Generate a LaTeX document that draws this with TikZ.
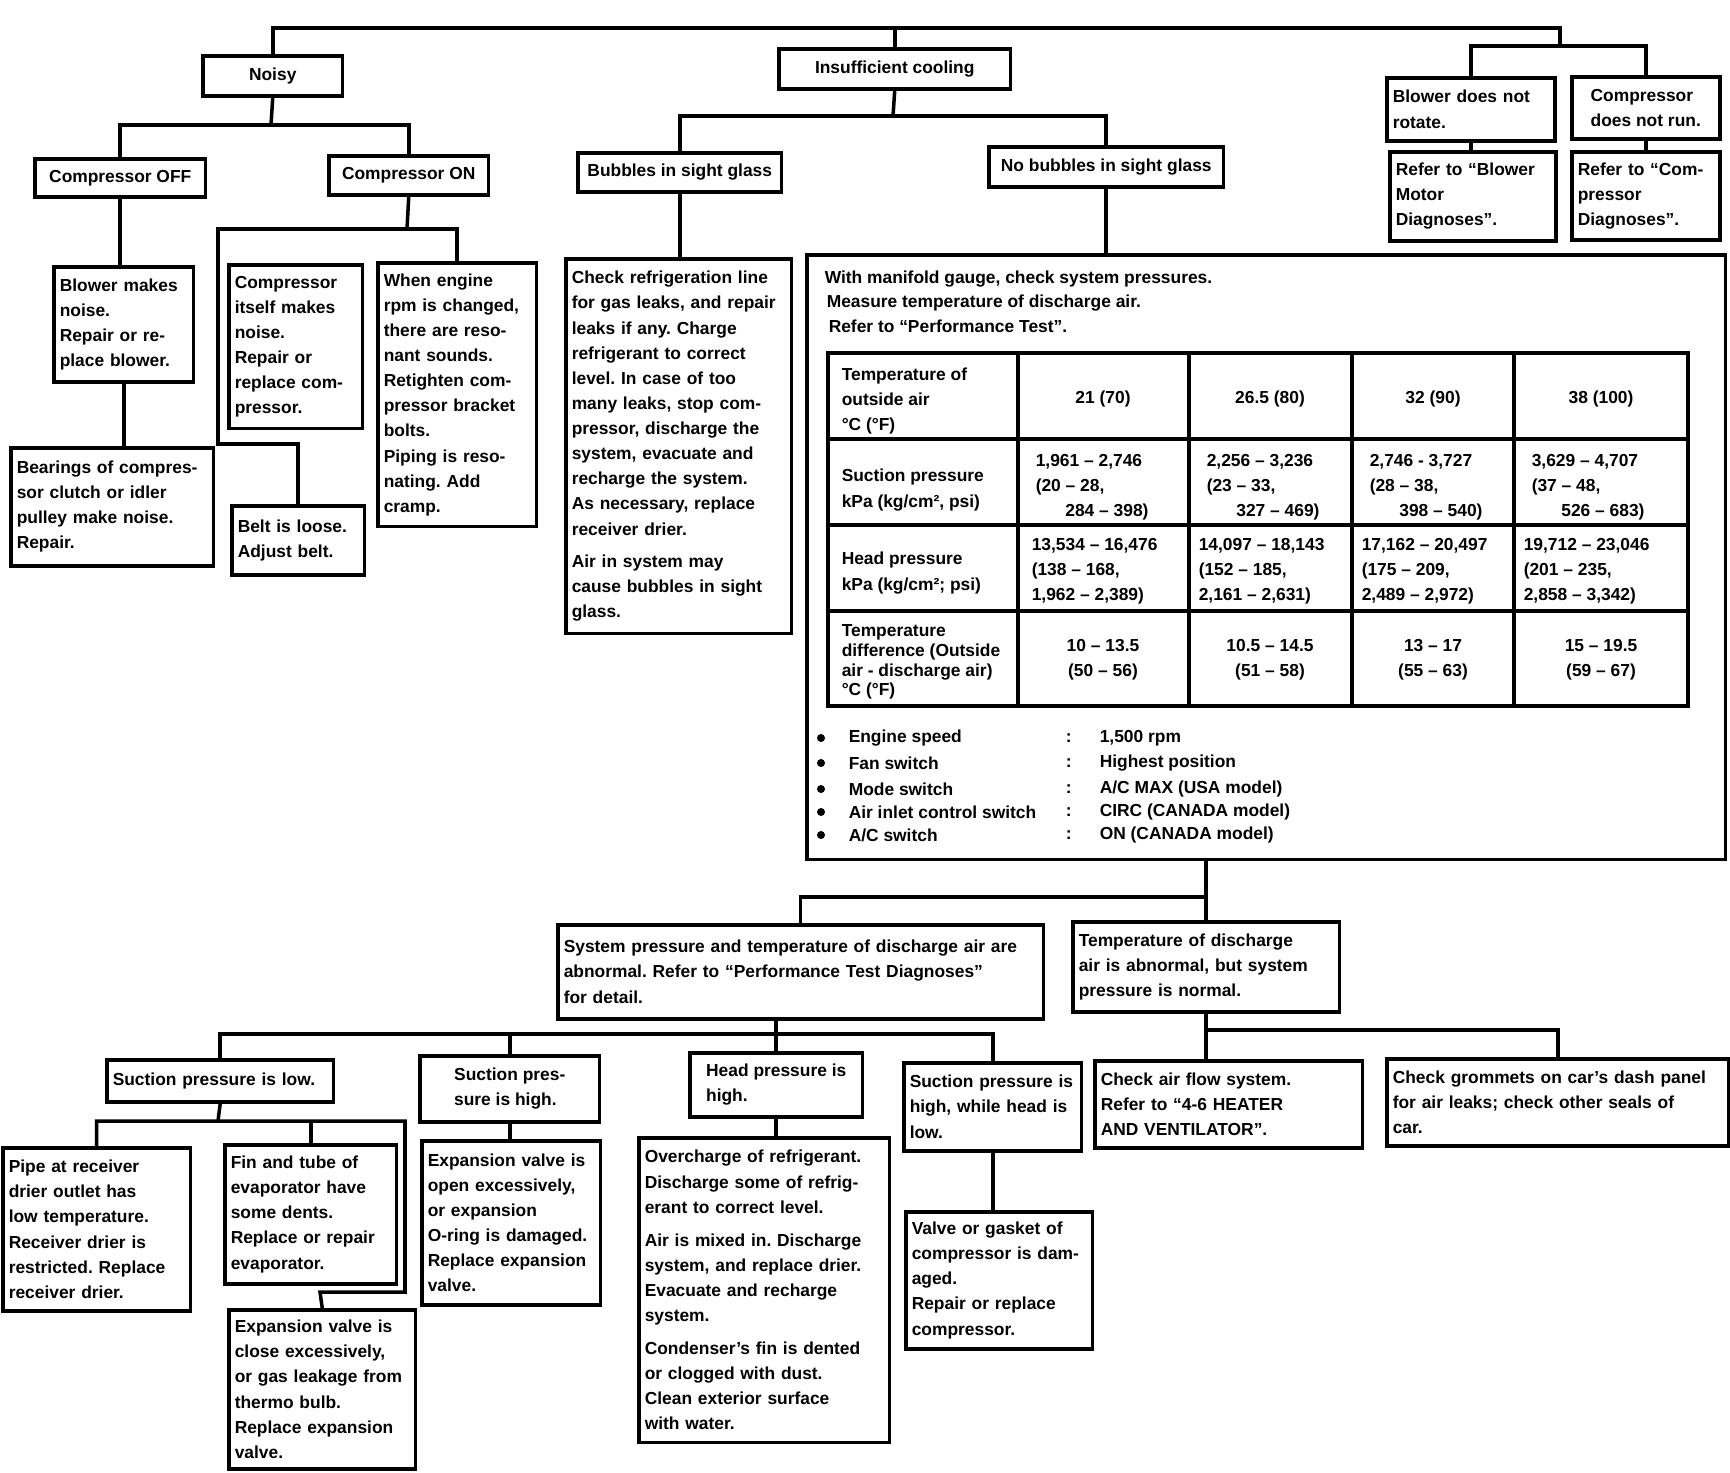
\documentclass[tikz,border=0pt]{standalone}
\usepackage{fontspec}
\setmainfont{Liberation Sans}
\frenchspacing
\newcommand{\diafont}{\fontsize{9.9}{14.3}\selectfont\bfseries}
\newcommand{\cellfont}{\fontsize{9.9}{11.2}\selectfont\bfseries}
\tikzset{
  box/.style={draw, line width=2pt, anchor=north west, align=left,
    inner xsep=0.12cm, inner ysep=0pt, font=\diafont},
  txt/.style={anchor=west, align=left, inner sep=0pt, font=\diafont},
  ctxt/.style={anchor=center, align=center, inner sep=0pt, font=\diafont},
}
\begin{document}
\begin{tikzpicture}[x=0.02cm, y=-0.02cm, line width=2pt]
\useasboundingbox (0,0) rectangle (1730,1472);

% top level
\node [box, minimum width=2.8cm, minimum height=0.8cm] (noisy) at (201,54) {Noisy};
\node [box, minimum width=4.64cm, minimum height=0.8cm] (insuff) at (777,47) {Insufficient cooling};
\node [box, text width=3.12cm, minimum height=1.26cm] (blowerno) at (1385,76) {Blower does not\\ rotate.};
\node [box, minimum width=2.96cm, minimum height=1.24cm] (compno) at (1570,75) {Compressor\\ does not run.};

% noisy branch
\node [box, minimum width=3.42cm, minimum height=0.76cm] (compoff) at (33,157) {Compressor OFF};
\node [box, minimum width=3.2cm, minimum height=0.78cm] (compon) at (327,154) {Compressor ON};
\node [box, text width=2.56cm, minimum height=2.3cm] (blower) at (52,265) {Blower makes\\ noise.\\ Repair or re-\\ place blower.};
\node [box, text width=3.82cm, minimum height=2.36cm] (bearings) at (9,446) {Bearings of compres-\\ sor clutch or idler\\ pulley make noise.\\ Repair.};
\node [box, text width=2.44cm, minimum height=3.28cm] (compitself) at (227,263) {Compressor\\ itself makes\\ noise.\\ Repair or\\ replace com-\\ pressor.};
\node [box, text width=2.94cm, minimum height=5.28cm] (engine) at (376,261) {When engine\\ rpm is changed,\\ there are reso-\\ nant sounds.\\ Retighten com-\\ pressor bracket\\ bolts.\\ Piping is reso-\\ nating. Add\\ cramp.};
\node [box, text width=2.42cm, minimum height=1.38cm] (belt) at (230,504) {Belt is loose.\\ Adjust belt.};

% insufficient cooling branch
\node [box, minimum width=4.08cm, minimum height=0.78cm] (bubbles) at (576,151) {Bubbles in sight glass};
\node [box, minimum width=4.7cm, minimum height=0.8cm] (nobubbles) at (987,145) {No bubbles in sight glass};
\node [box, text width=4.28cm, minimum height=7.5cm] (checkref) at (564,257) {Check refrigeration line\\ for gas leaks, and repair\\ leaks if any. Charge\\ refrigerant to correct\\ level. In case of too\\ many leaks, stop com-\\ pressor, discharge the\\ system, evacuate and\\ recharge the system.\\ As necessary, replace\\ receiver drier.\\[4pt] Air in system may\\ cause bubbles in sight\\ glass.};
\node [box, text width=3.08cm, minimum height=1.78cm] (referblower) at (1388,150) {Refer to ``Blower\\ Motor\\ Diagnoses''.};
\node [box, text width=2.72cm, minimum height=1.76cm] (refercomp) at (1570,150) {Refer to ``Com-\\ pressor\\ Diagnoses''.};
\node [box, minimum width=18.38cm, minimum height=12.1cm] (perf) at (805,253) {};

% performance test box
\node [txt, anchor=base west] (line1) at (823,283) {With manifold gauge, check system pressures.};
\node [txt, anchor=base west] (line2) at (825,307) {Measure temperature of discharge air.};
\node [txt, anchor=base west] (line3) at (827,332) {Refer to ``Performance Test''.};

\draw (828,353) rectangle (1688,706);
\draw (828,439) -- (1688,439);
\draw (828,525) -- (1688,525);
\draw (828,611) -- (1688,611);
\draw (1018,353) -- (1018,706);
\draw (1189,353) -- (1189,706);
\draw (1352,353) -- (1352,706);
\draw (1514,353) -- (1514,706);

\node [txt] (r1) at (840,401) {Temperature of\\ outside air\\ °C (°F)};
\node [txt] (r2) at (840,490) {Suction pressure\\ kPa (kg/cm², psi)};
\node [txt] (r3) at (840,573) {Head pressure\\ kPa (kg/cm²; psi)};
\node [txt, font=\cellfont] (r4) at (840,662) {Temperature\\ difference (Outside\\ air - discharge air)\\ °C (°F)};

\node [ctxt] (h1) at (1103,399) {21 (70)};
\node [ctxt] (h2) at (1270,399) {26.5 (80)};
\node [ctxt] (h3) at (1433,399) {32 (90)};
\node [ctxt] (h4) at (1601,399) {38 (100)};

\node [txt] (s1) at (1034,487) {1,961 -- 2,746\\ (20 -- 28,\\ \hspace*{1.7em}284 -- 398)};
\node [txt] (s2) at (1205,487) {2,256 -- 3,236\\ (23 -- 33,\\ \hspace*{1.7em}327 -- 469)};
\node [txt] (s3) at (1368,487) {2,746 - 3,727\\ (28 -- 38,\\ \hspace*{1.7em}398 -- 540)};
\node [txt] (s4) at (1530,487) {3,629 -- 4,707\\ (37 -- 48,\\ \hspace*{1.7em}526 -- 683)};

\node [txt] (d1) at (1030,571) {13,534 -- 16,476\\ (138 -- 168,\\ 1,962 -- 2,389)};
\node [txt] (d2) at (1197,571) {14,097 -- 18,143\\ (152 -- 185,\\ 2,161 -- 2,631)};
\node [txt] (d3) at (1360,571) {17,162 -- 20,497\\ (175 -- 209,\\ 2,489 -- 2,972)};
\node [txt] (d4) at (1522,571) {19,712 -- 23,046\\ (201 -- 235,\\ 2,858 -- 3,342)};

\node [ctxt] (t1) at (1103,660) {10 -- 13.5\\ (50 -- 56)};
\node [ctxt] (t2) at (1270,660) {10.5 -- 14.5\\ (51 -- 58)};
\node [ctxt] (t3) at (1433,660) {13 -- 17\\ (55 -- 63)};
\node [ctxt] (t4) at (1601,660) {15 -- 19.5\\ (59 -- 67)};

\fill (821,738) circle (0.08cm);
\fill (821,763) circle (0.08cm);
\fill (821,789) circle (0.08cm);
\fill (821,812) circle (0.08cm);
\fill (821,835) circle (0.08cm);
\node [txt] (k1) at (847,738) {Engine speed};
\node [txt] (k2) at (847,763) {Fan switch};
\node [txt] (k3) at (847,789) {Mode switch};
\node [txt] (k4) at (847,812) {Air inlet control switch};
\node [txt] (k5) at (847,835) {A/C switch};
\node [txt] (c1) at (1064,738) {:};
\node [txt] (c2) at (1064,763) {:};
\node [txt] (c3) at (1064,789) {:};
\node [txt] (c4) at (1064,812) {:};
\node [txt] (c5) at (1064,835) {:};
\node [txt] (v1) at (1098,738) {1,500 rpm};
\node [txt] (v2) at (1098,763) {Highest position};
\node [txt] (v3) at (1098,789) {A/C MAX (USA model)};
\node [txt] (v4) at (1098,812) {CIRC (CANADA model)};
\node [txt] (v5) at (1098,835) {ON (CANADA model)};

% lower part
\node [box, text width=9.48cm, minimum height=1.88cm] (system) at (556,923) {System pressure and temperature of discharge air are\\ abnormal. Refer to ``Performance Test Diagnoses''\\ for detail.};
\node [box, text width=5.1cm, minimum height=1.8cm] (tempdis) at (1071,920) {Temperature of discharge\\ air is abnormal, but system\\ pressure is normal.};
\node [box, text width=4.3cm, minimum height=0.84cm] (suclow) at (105,1058) {Suction pressure is low.};
\node [box, minimum width=3.6cm, minimum height=1.32cm] (suchigh) at (418,1054) {Suction pres-\\ sure is high.};
\node [box, minimum width=3.46cm, minimum height=1.28cm] (headhigh) at (688,1051) {Head pressure is\\ high.};
\node [box, text width=3.32cm, minimum height=1.76cm] (sucheadlow) at (902,1061) {Suction pressure is\\ high, while head is\\ low.};
\node [box, text width=5.12cm, minimum height=1.74cm] (airflow) at (1093,1059) {Check air flow system.\\ Refer to ``4-6 HEATER\\ AND VENTILATOR''.};
\node [box, text width=6.6cm, minimum height=1.74cm] (grommets) at (1385,1057) {Check grommets on car's dash panel\\ for air leaks; check other seals of\\ car.};
\node [box, text width=3.52cm, minimum height=3.26cm] (pipe) at (1,1146) {Pipe at receiver\\ drier outlet has\\ low temperature.\\ Receiver drier is\\ restricted. Replace\\ receiver drier.};
\node [box, text width=3.2cm, minimum height=2.78cm] (fin) at (223,1143) {Fin and tube of\\ evaporator have\\ some dents.\\ Replace or repair\\ evaporator.};
\node [box, text width=3.5cm, minimum height=3.18cm] (expclose) at (227,1308) {Expansion valve is\\ close excessively,\\ or gas leakage from\\ thermo bulb.\\ Replace expansion\\ valve.};
\node [box, text width=3.34cm, minimum height=3.28cm] (expopen) at (420,1139) {Expansion valve is\\ open excessively,\\ or expansion\\ O-ring is damaged.\\ Replace expansion\\ valve.};
\node [box, text width=4.78cm, minimum height=6.1cm] (overcharge) at (637,1136) {Overcharge of refrigerant.\\ Discharge some of refrig-\\ erant to correct level.\\[4.5pt] Air is mixed in. Discharge\\ system, and replace drier.\\ Evacuate and recharge\\ system.\\[4.5pt] Condenser's fin is dented\\ or clogged with dust.\\ Clean exterior surface\\ with water.};
\node [box, text width=3.5cm, minimum height=2.74cm] (valve) at (904,1210) {Valve or gasket of\\ compressor is dam-\\ aged.\\ Repair or replace\\ compressor.};

% connectors
\coordinate (top) at (1560,28);
\coordinate (rj) at (1560,46);
\draw (noisy.north) |- (top) -- (rj);
\draw (insuff.north) -- (insuff.north |- top);
\draw (blowerno.north) |- (rj) -| (compno.north);
\draw (blowerno.south) -- (blowerno.south |- referblower.north);
\draw (compno.south) -- (compno.south |- refercomp.north);

\coordinate (noisyj) at (271,125);
\draw (noisy.south) -- (noisyj);
\draw (compoff.north) |- (noisyj) -| (compon.north);
\draw (compoff.south) -- (compoff.south |- blower.north);
\draw (blower.south) -- (blower.south |- bearings.north);
\coordinate (onj) at (407,229);
\coordinate (beltj) at (218,444);
\draw (compon.south) -- (onj);
\draw (engine.north) |- (onj) -| (beltj) -| (belt.north);

\coordinate (insj) at (893,116);
\draw (insuff.south) -- (insj);
\draw (bubbles.north) |- (insj) -| (nobubbles.north);
\draw (bubbles.south) -- (bubbles.south |- checkref.north);
\draw (nobubbles.south) -- (nobubbles.south |- perf.north);

\coordinate (perfj) at (1204,897);
\draw (tempdis.north) -- (tempdis.north |- perf.south);
\draw (system.north) |- (perfj);

\coordinate (sysj) at (774,1034);
\draw (headhigh.north) -- (headhigh.north |- system.south);
\draw (suclow.north) |- (sysj) -| (sucheadlow.north);
\draw (suchigh.north) -- (suchigh.north |- sysj);

\coordinate (lowj) at (218,1121);
\coordinate (lowr) at (405,1121);
\coordinate (closej) at (320,1292);
\draw (suclow.south) -- (lowj);
\draw (pipe.north) |- (lowj) -- (lowr) |- (closej) -- (expclose.north);
\draw (fin.north) -- (fin.north |- lowj);
\draw (suchigh.south) -- (suchigh.south |- expopen.north);
\draw (headhigh.south) -- (headhigh.south |- overcharge.north);
\draw (sucheadlow.south) -- (sucheadlow.south |- valve.north);

\coordinate (tdj) at (1204,1030);
\draw (tempdis.south) -- (tempdis.south |- airflow.north);
\draw (tdj) -| (grommets.north);
\end{tikzpicture}
\end{document}
